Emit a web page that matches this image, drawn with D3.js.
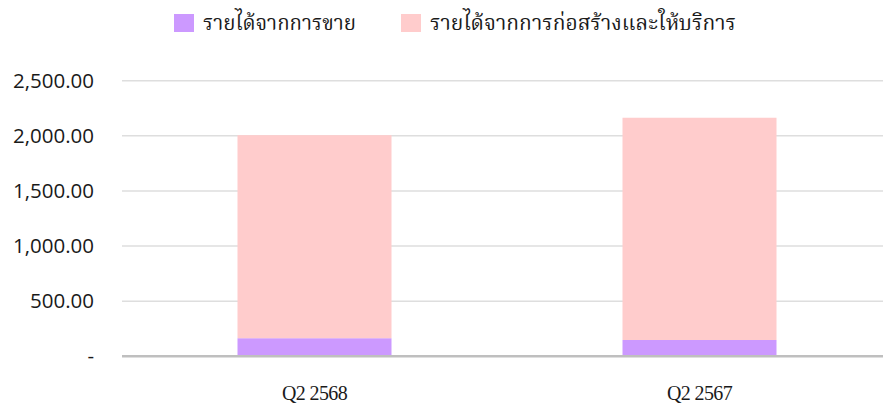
<!DOCTYPE html>
<html>
<head>
<meta charset="utf-8">
<script src="https://cdn.jsdelivr.net/npm/d3@7"></script>
<style>
  body { margin: 0; background: #fff; }
  #chart svg { display: block; }
</style>
</head>
<body>
<div id="chart"></div>
<script>
// Data
const categories = ["Q2 2568", "Q2 2567"];
const seriesNames = ["รายได้จากการขาย", "รายได้จากการก่อสร้างและให้บริการ"];
const salesRevenue = [164, 148];
const constructionRevenue = [1842, 2016];
const yTicks = [0, 500, 1000, 1500, 2000, 2500];
const colors = ["#cc99ff", "#ffcccc"];

const width = 883, height = 414;
const plotLeft = 122, plotRight = 883;
const yTop = 80.7, yBottom = 356.3;

const svg = d3.select("#chart").append("svg")
    .attr("width", width)
    .attr("height", height);

const x = d3.scaleBand()
    .domain(categories)
    .range([plotLeft, 892])
    .paddingInner(0.6)
    .paddingOuter(0.3);

const y = d3.scaleLinear()
    .domain([0, 2500])
    .range([yBottom, yTop]);

// Gridlines
svg.append("g")
    .selectAll("line")
    .data(yTicks.filter(d => d > 0))
    .enter().append("line")
    .attr("x1", plotLeft)
    .attr("x2", plotRight)
    .attr("y1", d => y(d))
    .attr("y2", d => y(d))
    .attr("stroke", "#dedede")
    .attr("stroke-width", 1.5);

// Stacked bars
const rows = categories.map((c, i) => ({
    category: c,
    sales: salesRevenue[i],
    construction: constructionRevenue[i]
}));
const stack = d3.stack().keys(["sales", "construction"]);
const layers = stack(rows);

svg.append("g")
    .selectAll("g")
    .data(layers)
    .enter().append("g")
    .attr("fill", (d, i) => colors[i])
    .selectAll("rect")
    .data(d => d)
    .enter().append("rect")
    .attr("x", d => x(d.data.category))
    .attr("width", x.bandwidth())
    .attr("y", d => y(d[1]))
    .attr("height", d => y(d[0]) - y(d[1]));

// Zero axis line
svg.append("line")
    .attr("x1", plotLeft)
    .attr("x2", plotRight)
    .attr("y1", y(0))
    .attr("y2", y(0))
    .attr("stroke", "#bfbfbf")
    .attr("stroke-width", 2.5);

// Y axis labels
const fmt = d3.format(",.2f");
svg.append("g")
    .selectAll("text")
    .data(yTicks)
    .enter().append("text")
    .attr("x", 94)
    .attr("y", d => y(d) + 7)
    .attr("text-anchor", "end")
    .attr("font-family", "'Open Sans', sans-serif")
    .attr("font-size", 20.5)
    .attr("fill", "#1a1a1a")
    .text(d => d === 0 ? "-" : fmt(d));

// X axis labels
svg.append("g")
    .selectAll("text")
    .data(categories)
    .enter().append("text")
    .attr("x", d => x(d) + x.bandwidth() / 2)
    .attr("y", 400)
    .attr("text-anchor", "middle")
    .attr("font-family", "'Liberation Serif', 'Times New Roman', serif")
    .attr("font-size", 20)
    .attr("letter-spacing", -0.6)
    .attr("fill", "#1a1a1a")
    .text(d => d);

// Legend
const legendItems = [
    { name: seriesNames[0], color: colors[0], x: 174, len: 153 },
    { name: seriesNames[1], color: colors[1], x: 401, len: 306 }
];
const legend = svg.append("g")
    .selectAll("g")
    .data(legendItems)
    .enter().append("g")
    .attr("transform", d => `translate(${d.x},0)`);

legend.append("rect")
    .attr("x", 0)
    .attr("y", 14)
    .attr("width", 20)
    .attr("height", 18)
    .attr("fill", d => d.color);

legend.append("text")
    .attr("x", 29)
    .attr("y", 30)
    .attr("font-family", "'Liberation Serif', 'Noto Serif Thai', 'Noto Sans Thai', serif")
    .attr("font-size", 21)
    .attr("fill", "#1a1a1a")
    .attr("textLength", d => d.len)
    .attr("lengthAdjust", "spacingAndGlyphs")
    .text(d => d.name);
</script>
</body>
</html>
